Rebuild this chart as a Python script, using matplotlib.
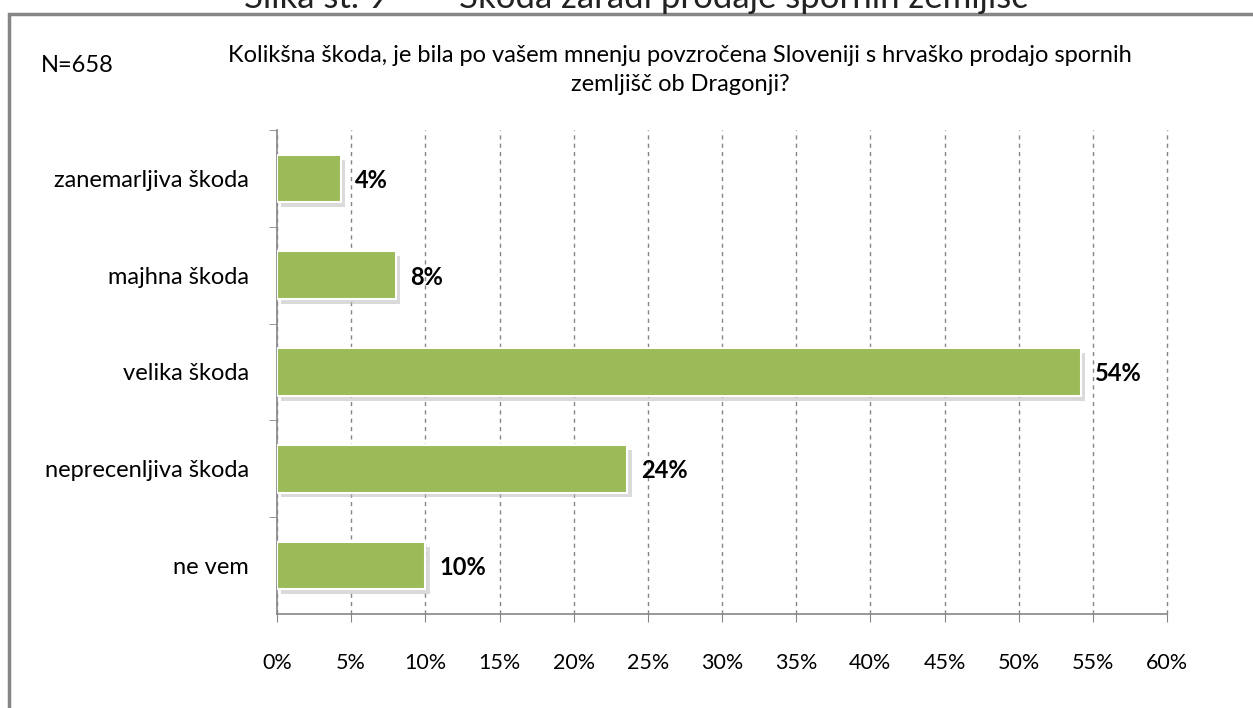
import matplotlib
matplotlib.use("Agg")
import matplotlib.pyplot as plt
from matplotlib.patches import Rectangle

categories = ["zanemarljiva škoda", "majhna škoda", "velika škoda",
              "neprecenljiva škoda", "ne vem"]
values = [4.3, 8.0, 54.2, 23.6, 10.0]
labels = ["4%", "8%", "54%", "24%", "10%"]
xticks = list(range(0, 61, 5))

title = ("Kolikšna škoda, je bila po vašem mnenju povzročena Sloveniji s hrvaško prodajo spornih\n"
         "zemljišč ob Dragonji?")
caption = "Slika št. 9        Škoda zaradi prodaje spornih zemljišč"

plt.rcParams["font.family"] = ["Lato", "DejaVu Sans"]

fig = plt.figure(figsize=(12.53, 7.08), dpi=100)
ax = fig.add_axes([277 / 1253, 1 - 614 / 708, (1167 - 277) / 1253, (614 - 130) / 708])

ypos = list(range(len(categories)))
# soft shadow below/right of the bars
ax.barh([y + 0.05 for y in ypos], values, height=0.49, left=0.3, color="#bdbdbd",
        alpha=0.55, zorder=2)
ax.barh(ypos, values, height=0.49, color="#9bbb59",
        edgecolor="white", linewidth=1.5, zorder=3)

for y, v, lab in zip(ypos, values, labels):
    ax.text(v + 0.95, y + 0.02, lab, va="center", ha="left", fontsize=17,
            fontweight="bold", color="black")

ax.set_xlim(0, 60)
ax.set_ylim(len(categories) - 0.5, -0.5)
ax.set_xticks(xticks)
ax.set_xticklabels([f"{t}%" for t in xticks], fontsize=15.5)
ax.set_yticks(ypos)
ax.set_yticklabels(categories, fontsize=17)
ax.tick_params(axis="y", length=0, pad=20)
ax.set_yticks([y + 0.5 for y in ypos[:-1]] + [-0.5], minor=True)
ax.tick_params(axis="y", which="minor", length=6, color="#868686", direction="out")
ax.tick_params(axis="x", length=6, color="#868686", pad=22)

ax.xaxis.grid(True, linestyle=(0, (3, 3)), color="#868686", linewidth=1)
ax.set_axisbelow(True)
for line in ax.get_xgridlines():
    line.set_clip_on(False)
for side in ["top", "right"]:
    ax.spines[side].set_visible(False)
for side in ["left", "bottom"]:
    ax.spines[side].set_color("#868686")
    ax.spines[side].set_linewidth(1.2)

fig.text(77 / 1253, 1 - 66 / 708, "N=658", fontsize=17, ha="center", va="center")
fig.text(680 / 1253, 1 - 70 / 708, title, fontsize=17, ha="center", va="center",
         linespacing=1.45)
fig.text(636 / 1253, 1 + 5 / 708, caption, fontsize=25, ha="center", va="center",
         color="#222222")

fig.patches.append(Rectangle((9 / 1253, -0.1), 1.2, 1.1 - 14 / 708,
                             transform=fig.transFigure, fill=False,
                             edgecolor="#868686", linewidth=2.5))

fig.savefig("out.png", dpi=100)
